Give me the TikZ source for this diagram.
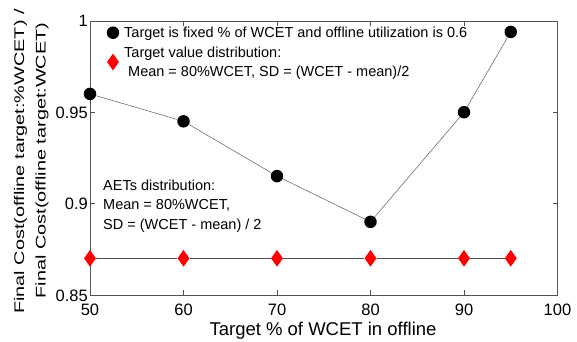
\documentclass[tikz,border=0pt]{standalone}
\usepackage{fontspec}
\setmainfont{Liberation Sans}
\usetikzlibrary{shapes.geometric}
\definecolor{axisgray}{HTML}{505050}
\definecolor{linegray}{HTML}{5A5A5A}
\tikzset{
  dot/.style={circle, fill=black, inner sep=0pt, minimum size=12.5pt},
  dia/.style={diamond, fill=red, inner sep=0pt, minimum width=12pt, minimum height=17pt},
  lbl/.style={inner sep=0pt, font=\fontsize{14.5}{17}\selectfont, anchor=base west},
  ticklbl/.style={inner sep=0pt, font=\fontsize{16.5}{19}\selectfont},
  axisline/.style={draw=axisgray, line width=0.6pt},
  dataline/.style={draw=linegray, line width=0.5pt},
  flatline/.style={draw=axisgray, line width=0.8pt},
  ylab/.style={inner sep=0pt, rotate=90, anchor=base, font=\fontsize{14}{16}\selectfont},
  xlab/.style={inner sep=0pt, anchor=base, font=\fontsize{18.5}{21}\selectfont}
}
\begin{document}
\begin{tikzpicture}[x=1pt,y=-1pt]
\useasboundingbox (0,0) rectangle (577,341);
\fill[white] (0,0) rectangle (577,341);
% axes box and ticks
\draw[axisline] (90,20.9) rectangle (557.5,294.8);
\foreach \x in {183.5,277,370.5,464} {
  \draw[axisline] (\x,294.8) -- ++(0,-5);
  \draw[axisline] (\x,20.9) -- ++(0,5);
}
\foreach \y in {112.2,203.5} {
  \draw[axisline] (90,\y) -- ++(5,0);
  \draw[axisline] (557.5,\y) -- ++(-5,0);
}
% tick labels
\foreach \x/\t in {90/50,183.5/60,277/70,370.5/80,464/90,557.5/100}
  \node[ticklbl, anchor=base] (xt\t) at (\x,315.5) {\t};
\node[ticklbl, anchor=base east] (yt1) at (88,26.8) {1};
\node[ticklbl, anchor=base east] (yt2) at (88,118.1) {0.95};
\node[ticklbl, anchor=base east] (yt3) at (88,209.4) {0.9};
\node[ticklbl, anchor=base east] (yt4) at (88,301.2) {0.85};
% axis labels
\node[xlab] (xlabel) at (323,335.7) {Target \% of WCET in offline};
\node[ylab] (ylabel1) at (24,161.5) {\scalebox{1.42}[1]{Final Cost(offline target:\%WCET) /}};
\node[ylab] (ylabel2) at (45.5,160.5) {\scalebox{1.42}[1]{Final Cost(offline target:WCET)}};
% data: circles
\node[dot] (c1) at (90,93.9) {};
\node[dot] (c2) at (183.5,121.3) {};
\node[dot] (c3) at (277,176.1) {};
\node[dot] (c4) at (370.5,221.8) {};
\node[dot] (c5) at (464,112.2) {};
\node[dot] (c6) at (510.75,31.9) {};
\draw[dataline] (c1) -- (c2) -- (c3) -- (c4) -- (c5) -- (c6);
% data: diamonds
\node[dia] (d1) at (90,258.3) {};
\node[dia] (d2) at (183.5,258.3) {};
\node[dia] (d3) at (277,258.3) {};
\node[dia] (d4) at (370.5,258.3) {};
\node[dia] (d5) at (464,258.3) {};
\node[dia] (d6) at (510.75,258.3) {};
\draw[flatline] (d1) -- (d2) -- (d3) -- (d4) -- (d5) -- (d6);
% legend
\node[dot] (lc) at (113,32.7) {};
\node[lbl] (lt1) at (124,37.6) {Target is fixed \% of WCET and offline utilization is 0.6};
\node[dia] (ld) at (113,62) {};
\node[lbl] (lt2) at (124,57.5) {Target value distribution:};
\node[lbl] (lt3) at (128,76.7) {Mean = 80\%WCET, SD = (WCET - mean)/2};
% annotation
\node[lbl] (a1) at (103,190.8) {AETs distribution:};
\node[lbl] (a2) at (103,209.5) {Mean = 80\%WCET,};
\node[lbl] (a3) at (103,229) {SD = (WCET - mean) / 2};
\end{tikzpicture}
\end{document}
